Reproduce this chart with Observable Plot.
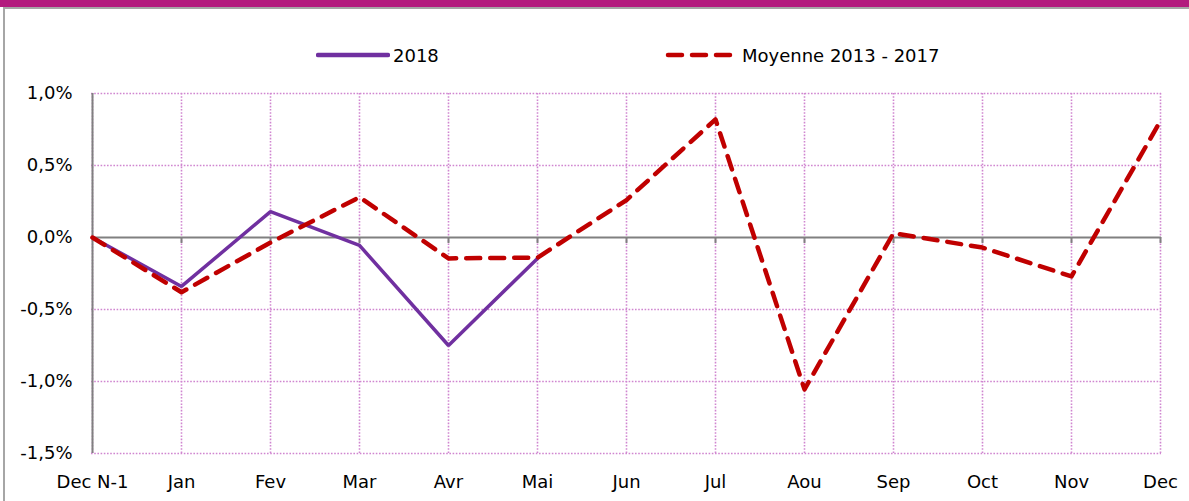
<!DOCTYPE html>
<html><head><meta charset="utf-8">
<script src="https://cdn.jsdelivr.net/npm/d3@7"></script>
<script src="https://cdn.jsdelivr.net/npm/@observablehq/plot@0.6"></script>
<style>
html,body{margin:0;padding:0;background:#fff;}
body{width:1189px;height:501px;position:relative;overflow:hidden;font-family:"DejaVu Sans",sans-serif;}
#topbar{position:absolute;left:0;top:0;width:1189px;height:7px;background:#b31b7e;}
#frame{position:absolute;left:3px;top:7px;width:1190px;height:520px;border:2px solid #a6a6a6;box-sizing:border-box;}
#chart{position:absolute;left:0;top:0;}
#legend{position:absolute;top:43px;left:0;width:1189px;height:24px;font-size:18px;color:#000;}
.li{position:absolute;top:0;display:flex;align-items:center;height:24px;}
.li svg{margin-right:3px;}
</style></head>
<body>
<div id="topbar"></div>
<div id="frame"></div>
<div id="chart"></div>
<div id="legend"></div>
<script>
const months = ["Dec N-1","Jan","Fev","Mar","Avr","Mai","Jun","Jul","Aou","Sep","Oct","Nov","Dec"];
const values2018 = [0, -0.34, 0.18, -0.055, -0.75, -0.145];
const valuesMoyenne = [0, -0.38, -0.035, 0.28, -0.145, -0.14, 0.26, 0.82, -1.055, 0.03, -0.07, -0.27, 0.81];
const yTicks = [-1.5, -1.0, -0.5, 0.0, 0.5, 1.0];
const gridYTicks = [-1.5, -1.0, -0.5, 0.5, 1.0];
const seriesNames = ["2018", "Moyenne 2013 - 2017"];
const seriesColors = ["#7030a0", "#c00000"];

const d2018 = values2018.map((v, i) => ({month: months[i], value: v}));
const dMoy = valuesMoyenne.map((v, i) => ({month: months[i], value: v}));
const fmt = d => d.toFixed(1).replace(".", ",") + "%";
const gridColor = "#d086d0";

const chart = Plot.plot({
  width: 1189,
  height: 501,
  marginLeft: 91,
  marginRight: 28,
  marginTop: 93,
  marginBottom: 48,
  style: {fontFamily: '"DejaVu Sans",sans-serif', fontSize: "18px", background: "transparent", color: "#000"},
  x: {type: "point", domain: months, padding: 0},
  y: {domain: [-1.5, 1.0]},
  marks: [
    Plot.gridX(months, {stroke: gridColor, strokeOpacity: 1, strokeWidth: 1.6, strokeDasharray: "1.6,1.6"}),
    Plot.gridY(gridYTicks, {stroke: gridColor, strokeOpacity: 1, strokeWidth: 1.6, strokeDasharray: "1.6,1.6"}),
    Plot.ruleX([months[0]], {stroke: "#808080", strokeWidth: 2}),
    Plot.ruleY([0], {stroke: "#808080", strokeWidth: 2}),
    Plot.ruleX(months.slice(1), {x: d => d, y1: 0, y2: 0, insetBottom: -6, stroke: "#808080", strokeWidth: 2}),
    Plot.axisY(yTicks, {tickSize: 0, tickPadding: 19, tickFormat: fmt, fontSize: 18, label: null}),
    Plot.axisX(months, {tickSize: 0, tickPadding: 22, fontSize: 18, label: null}),
    Plot.line(d2018, {x: "month", y: "value", stroke: seriesColors[0], strokeWidth: 3.5, strokeLinejoin: "miter"}),
    Plot.line(dMoy, {x: "month", y: "value", stroke: seriesColors[1], strokeWidth: 4.5, strokeDasharray: "14,10", strokeLinecap: "round"})
  ]
});
document.getElementById("chart").appendChild(chart);

// legend
const legend = document.getElementById("legend");
const li1 = document.createElement("div");
li1.className = "li"; li1.style.left = "316px";
li1.innerHTML = `<svg width="74" height="10"><line x1="2" y1="5" x2="72" y2="5" stroke="${seriesColors[0]}" stroke-width="4.5" stroke-linecap="round"/></svg><span>${seriesNames[0]}</span>`;
legend.appendChild(li1);
const li2 = document.createElement("div");
li2.className = "li"; li2.style.left = "665px";
li2.innerHTML = `<svg width="74" height="10"><line x1="3" y1="5" x2="72" y2="5" stroke="${seriesColors[1]}" stroke-width="4.5" stroke-dasharray="14,10" stroke-linecap="round"/></svg><span>${seriesNames[1]}</span>`;
legend.appendChild(li2);
</script>
</body></html>
